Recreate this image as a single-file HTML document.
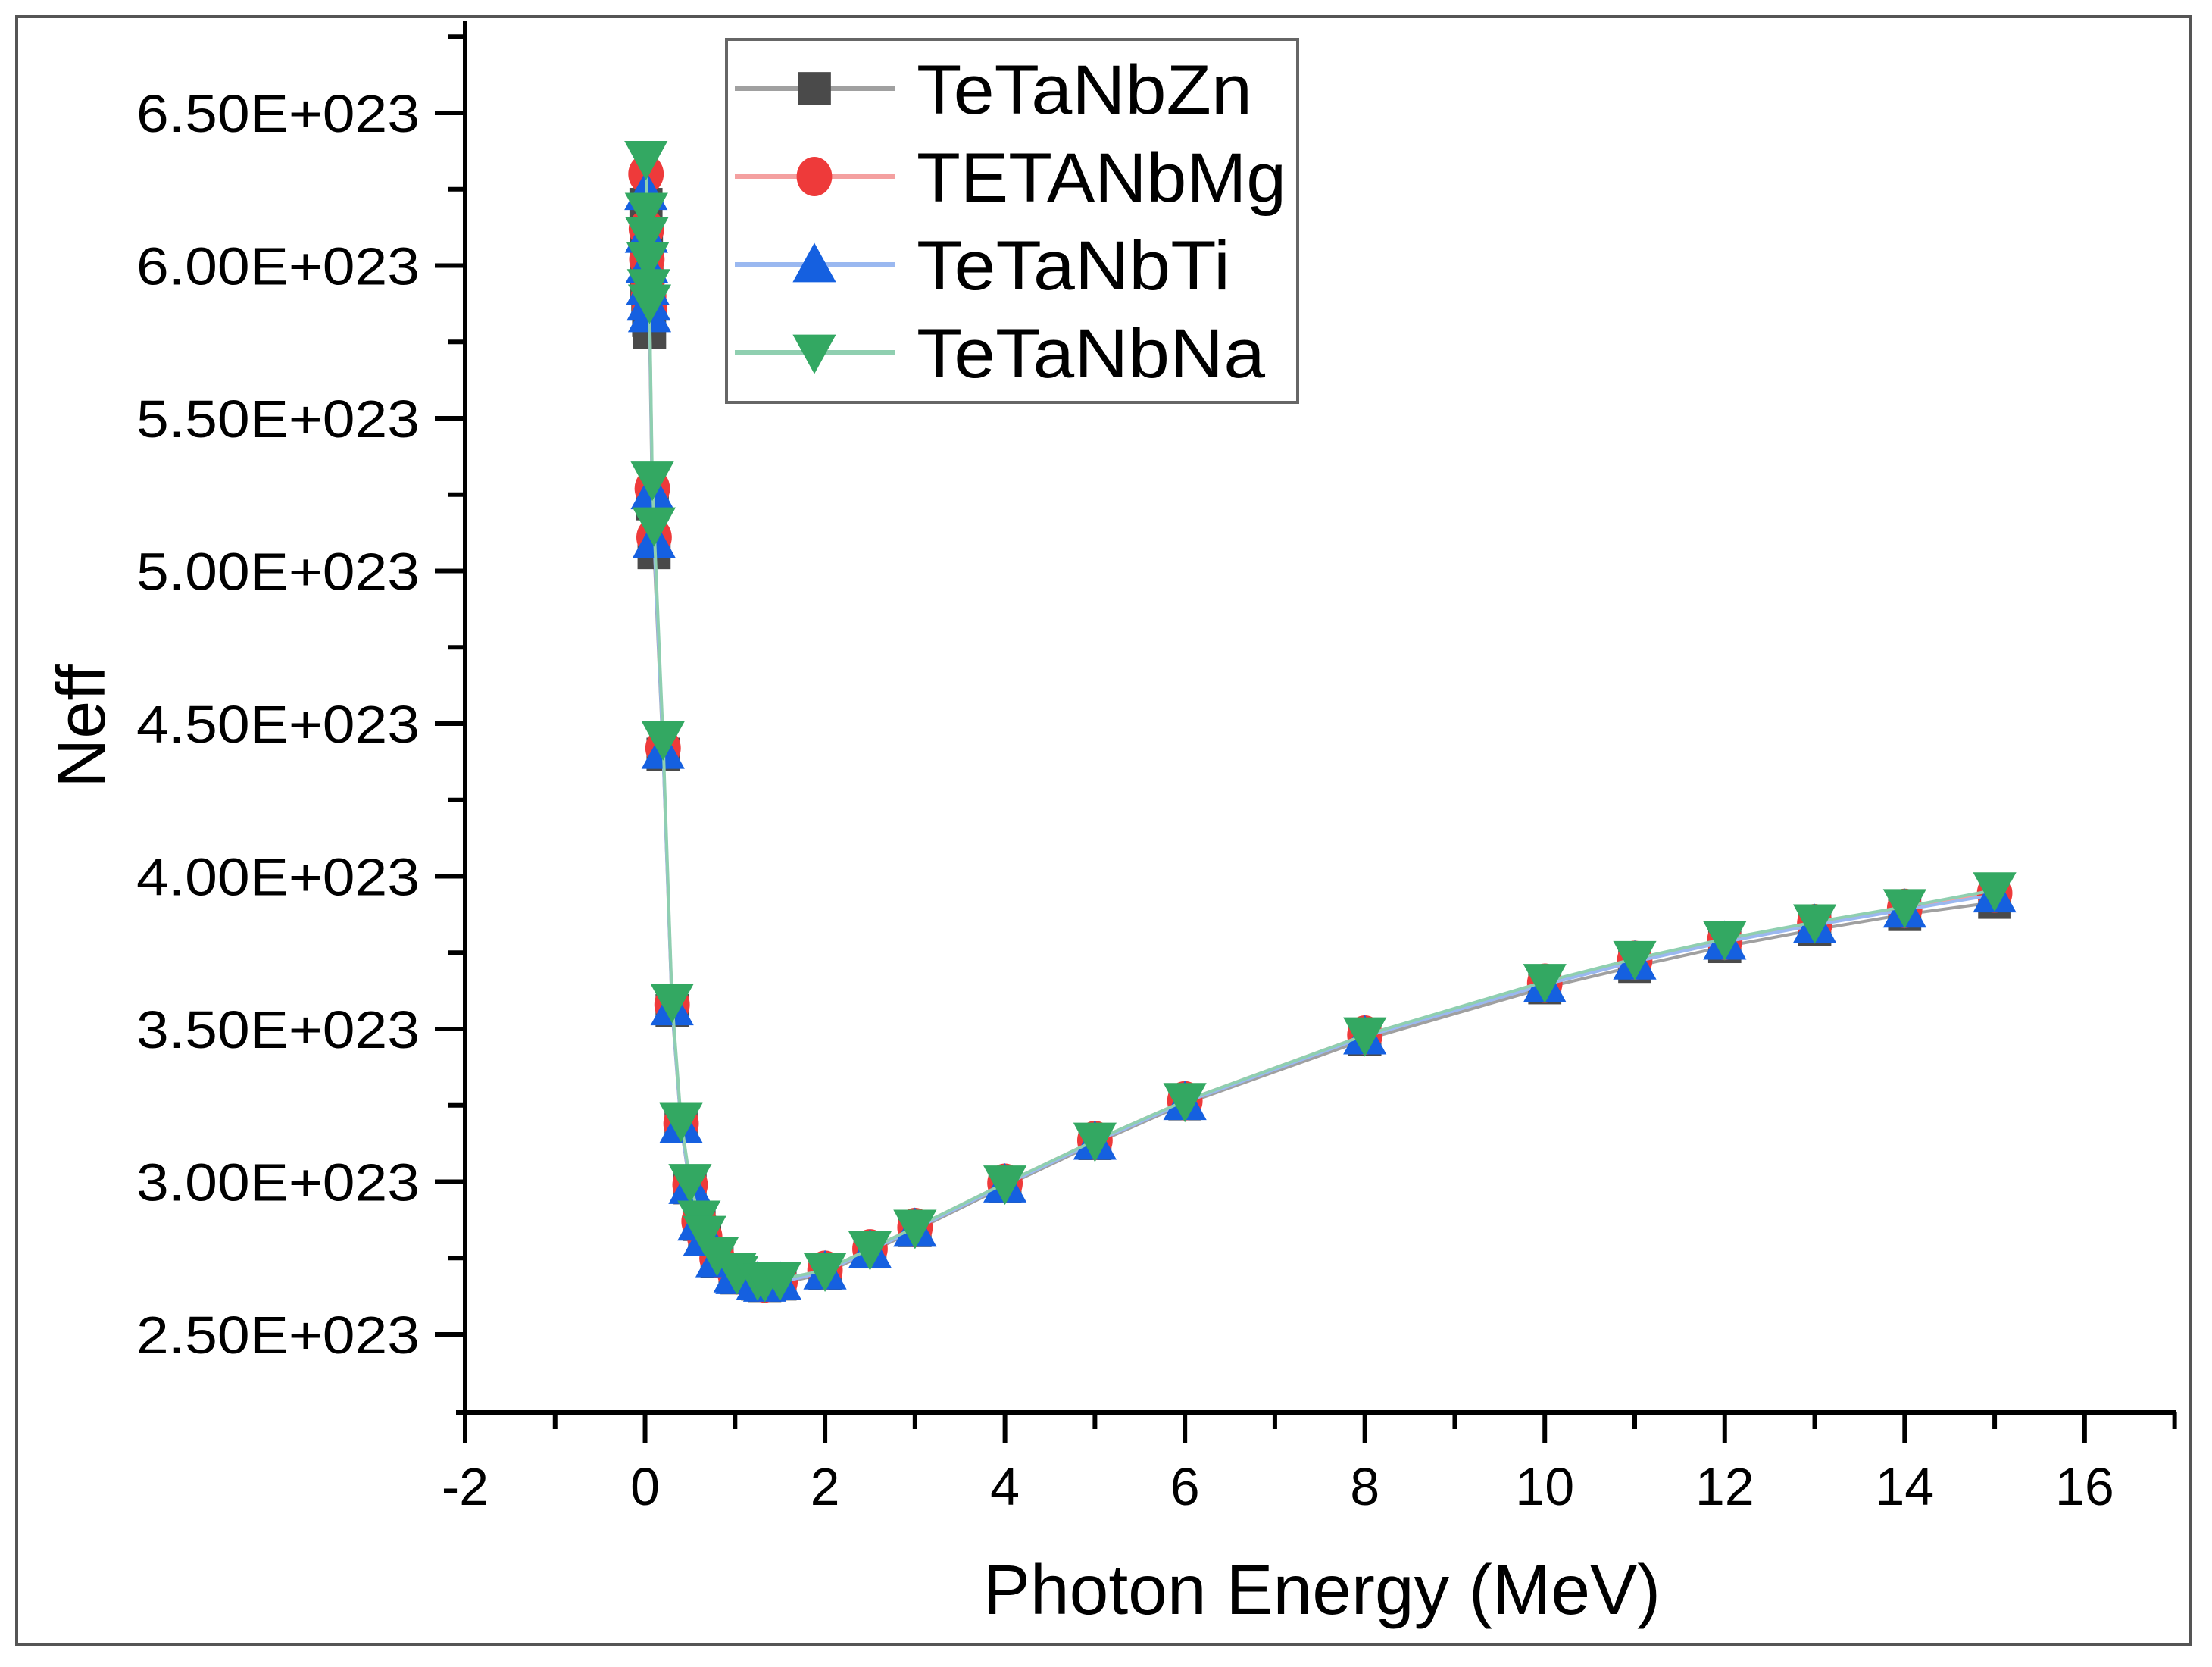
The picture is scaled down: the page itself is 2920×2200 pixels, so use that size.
<!DOCTYPE html>
<html><head><meta charset="utf-8"><style>
html,body{margin:0;padding:0;background:#fff;}
svg{display:block;font-family:"Liberation Sans",Arial,sans-serif;}
</style></head><body>
<svg id="chart" width="2920" height="2200" viewBox="0 0 2920 2200" xmlns="http://www.w3.org/2000/svg">
<rect x="22" y="22" width="2870" height="2148" fill="#fff" stroke="#555" stroke-width="4"/>
<g id="axes"></g>
<g id="series"></g>
<text x="1745" y="2130" font-size="93" text-anchor="middle" fill="#000">Photon Energy (MeV)</text>
<text transform="translate(138,958) rotate(-90)" font-size="90" text-anchor="middle" fill="#000">Neff</text>
<g id="legend"></g>
</svg>
<script>
const energies=[0.01,0.015,0.02,0.03,0.04,0.05,0.08,0.1,0.2,0.3,0.4,0.5,0.6,0.662,0.8,1,1.022,1.25,1.33,1.5,2,2.5,3,4,5,6,8,10,11,12,13,14,15];
const neffZn=[6.20,6.05,5.95,5.88,5.82,5.78,5.22,5.06,4.40,3.56,3.18,2.98,2.86,2.81,2.74,2.69,2.685,2.665,2.66,2.665,2.70,2.77,2.84,2.985,3.125,3.255,3.465,3.635,3.705,3.77,3.825,3.875,3.915];
const neffMg=[6.30,6.12,6.02,5.96,5.90,5.86,5.27,5.11,4.42,3.58,3.19,2.99,2.87,2.82,2.75,2.70,2.695,2.672,2.668,2.673,2.71,2.78,2.85,2.995,3.135,3.265,3.48,3.65,3.725,3.79,3.845,3.895,3.945];
const neffTi=[6.24,6.10,6.00,5.93,5.88,5.84,5.26,5.10,4.41,3.57,3.185,2.985,2.865,2.815,2.745,2.695,2.69,2.67,2.665,2.67,2.705,2.775,2.845,2.99,3.13,3.26,3.475,3.645,3.72,3.785,3.84,3.89,3.94];
const neffNa=[6.35,6.18,6.10,6.02,5.93,5.88,5.30,5.15,4.45,3.59,3.20,3.00,2.88,2.83,2.76,2.71,2.70,2.68,2.675,2.68,2.71,2.78,2.85,2.995,3.135,3.265,3.48,3.655,3.73,3.795,3.85,3.90,3.955];
const xTicks=[-2,0,2,4,6,8,10,12,14,16];
const yTicks=[2.5,3.0,3.5,4.0,4.5,5.0,5.5,6.0,6.5];
const yTickLabels=["2.50E+023","3.00E+023","3.50E+023","4.00E+023","4.50E+023","5.00E+023","5.50E+023","6.00E+023","6.50E+023"];
const seriesNames=["TeTaNbZn","TETANbMg","TeTaNbTi","TeTaNbNa"];

const NS="http://www.w3.org/2000/svg";
const X0=614,X1=2873,XMIN=-2,XMAX=17.02;
const YB=1864,YT=44,YMIN=2.2444,YMAX=6.7605;
function sx(v){return X0+(v-XMIN)/(XMAX-XMIN)*(X1-X0);}
function sy(v){return YB-(v-YMIN)/(YMAX-YMIN)*(YB-YT);}
function mk(tag,attrs,parent){const e=document.createElementNS(NS,tag);for(const k in attrs)e.setAttribute(k,attrs[k]);parent.appendChild(e);return e;}
const axes=document.getElementById('axes');
let l=mk('line',{x1:X0,y1:YT-16,x2:X0,y2:YB+2,stroke:'#000','stroke-width':6},axes);


l=mk('line',{x1:X0-12,y1:YB,x2:X1,y2:YB,stroke:'#000','stroke-width':6},axes);


xTicks.forEach(t=>{
  const x=sx(t);
  const tk=mk('line',{x1:x,y1:YB,x2:x,y2:YB+40,stroke:'#000','stroke-width':6},axes);
  
  
  const mn=mk('line',{x1:sx(t+1),y1:YB,x2:sx(t+1),y2:YB+22,stroke:'#000','stroke-width':6},axes);
  
  
  const tx=mk('text',{x:x,y:YB+122,'font-size':70,'text-anchor':'middle',fill:'#000'},axes);
  tx.textContent=String(t);
  
  
});
yTicks.forEach((t,i)=>{
  const y=sy(t);
  const tk=mk('line',{x1:X0-40,y1:y,x2:X0,y2:y,stroke:'#000','stroke-width':6},axes);
  
  
  const mn=mk('line',{x1:X0-22,y1:sy(t+0.25),x2:X0,y2:sy(t+0.25),stroke:'#000','stroke-width':6},axes);
  
  
  const tx=mk('text',{x:X0-60,y:y+25,'font-size':70,'text-anchor':'end',fill:'#000','textLength':374,'lengthAdjust':'spacingAndGlyphs'},axes);
  tx.textContent=yTickLabels[i];
  
  
});
const styles=[{line:'#a0a0a0',fill:'#4a4a4a',m:'square'},{line:'#f4a0a0',fill:'#ee3a3a',m:'circle'},{line:'#9ab8f0',fill:'#1560e0',m:'up'},{line:'#8fcfb0',fill:'#33a862',m:'down'}];
const seriesData=[neffZn,neffMg,neffTi,neffNa];
function marker(kind,x,y,fill,parent,s){
  let e;
  if(kind==='square')e=mk('rect',{x:x-s*0.42,y:y-s*0.42,width:s*0.84,height:s*0.84,fill:fill},parent);
  else if(kind==='circle')e=mk('ellipse',{cx:x,cy:y,rx:s*0.45,ry:s*0.5,fill:fill},parent);
  else if(kind==='up')e=mk('polygon',{points:`${x},${y-s*0.55} ${x+s*0.55},${y+s*0.45} ${x-s*0.55},${y+s*0.45}`,fill:fill},parent);
  else e=mk('polygon',{points:`${x-s*0.55},${y-s*0.45} ${x+s*0.55},${y-s*0.45} ${x},${y+s*0.55}`,fill:fill},parent);
  return e;
}
const sg=document.getElementById('series');
seriesData.forEach((vals,si)=>{
  const g=mk('g',{},sg);
  
  
  const pts=energies.map((e,i)=>sx(e)+','+sy(vals[i])).join(' ');
  const pl=mk('polyline',{points:pts,fill:'none',stroke:styles[si].line,'stroke-width':4},g);
  
  
  energies.forEach((e,i)=>{
    const m=marker(styles[si].m,sx(e),sy(vals[i]),styles[si].fill,g,52);
    
    
  });
});
const lg=document.getElementById('legend');
const box=mk('rect',{x:959,y:52,width:754,height:479,fill:'#fff',stroke:'#666','stroke-width':4},lg);


const legendWidths=[443,488,414,460];
seriesNames.forEach((n,i)=>{
  const y=117+i*116;
  const g=mk('g',{},lg);
  
  
  mk('line',{x1:970,y1:y,x2:1182,y2:y,stroke:styles[i].line,'stroke-width':6},g);
  marker(styles[i].m,1075,y,styles[i].fill,g,52);
  const t=mk('text',{x:1210,y:y+33,'font-size':92,fill:'#000',textLength:legendWidths[i],lengthAdjust:'spacingAndGlyphs'},g);
  t.textContent=n;
});
</script>
</body></html>
